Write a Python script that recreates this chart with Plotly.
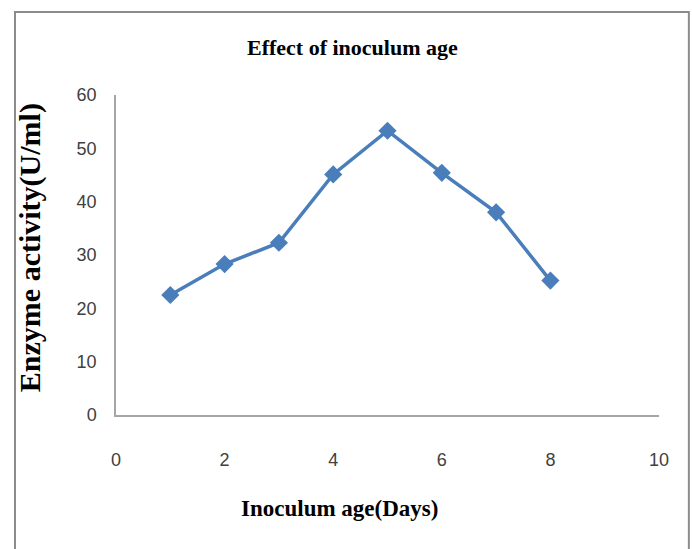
import plotly.graph_objects as go

days = [1, 2, 3, 4, 5, 6, 7, 8]
activity = [22.5, 28.3, 32.3, 45.1, 53.3, 45.4, 38.0, 25.2]
x_ticks = [0, 2, 4, 6, 8, 10]
y_ticks = [0, 10, 20, 30, 40, 50, 60]

fig = go.Figure()
fig.add_trace(go.Scatter(
    x=days, y=activity, mode="lines+markers",
    line=dict(color="#4A7EBB", width=3.5),
    marker=dict(symbol="diamond", size=14, color="#4A7EBB"),
    showlegend=False,
))

tickfont = dict(family="Liberation Sans Narrow, Liberation Sans, Arial, sans-serif", size=18, color="#404040")
fig.update_layout(
    width=692, height=549,
    margin=dict(l=116, r=33, t=95, b=134),
    plot_bgcolor="white", paper_bgcolor="white",
    xaxis=dict(range=[0, 10], tickvals=x_ticks, showgrid=False, zeroline=False,
               showline=True, linecolor="#A6A6A6", linewidth=1.5, ticks="",
               tickfont=tickfont, ticklabelstandoff=28),
    yaxis=dict(range=[0, 60], tickvals=y_ticks, showgrid=False, zeroline=False,
               showline=True, linecolor="#A6A6A6", linewidth=1.5, ticks="",
               tickfont=tickfont, ticklabelstandoff=14),
)

serif = "Liberation Serif, Times New Roman, serif"
fig.add_annotation(text="<b>Effect of inoculum age</b>", xref="paper", yref="paper",
                   x=0.435, y=1.147, xanchor="center", yanchor="middle", showarrow=False,
                   font=dict(family=serif, size=22, color="black"))
fig.add_annotation(text="<b>Inoculum age(Days)</b>", xref="paper", yref="paper",
                   x=0.412, y=-0.291, xanchor="center", yanchor="middle", showarrow=False,
                   font=dict(family=serif, size=23, color="black"))
fig.add_annotation(text="<b>Enzyme activity(U/ml)</b>", xref="paper", yref="paper",
                   x=-0.158, y=0.522, xanchor="center", yanchor="middle", showarrow=False,
                   textangle=-90,
                   font=dict(family=serif, size=30, color="black"))

fig.add_shape(type="rect", xref="paper", yref="paper",
              x0=-0.186, x1=1.055, y0=-0.6, y1=1.259,
              line=dict(color="#8C8C8C", width=2), fillcolor="rgba(0,0,0,0)", layer="below")

fig.write_html("out.html")
